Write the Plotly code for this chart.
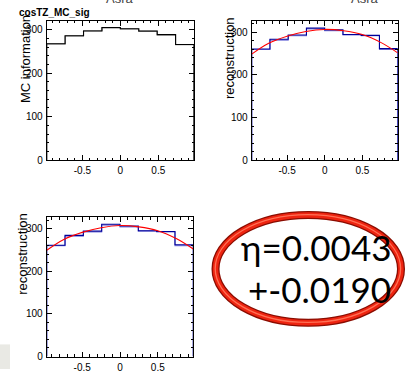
import plotly.graph_objects as go

W, H = 405, 375

# ---- data ----
bin_edges = [-0.97, -0.7275, -0.485, -0.2425, 0.0, 0.2425, 0.485, 0.7275, 0.97]
mc_black = [267.5, 286, 297, 305, 302, 297, 288.5, 266]
mc_gray = [267, 285.5, 297.5, 304, 301.5, 296, 288, 265.5]
reco_dark = [261, 284, 294, 310, 306, 295, 293, 262]
reco_light = [260, 282, 292, 308, 304, 294, 292, 260]
fit_x = [-0.97, -0.75, -0.5, -0.25, 0.0, 0.25, 0.5, 0.75, 0.97]
fit_y = [249, 274, 291, 302, 307, 304, 295, 276, 252]
x_tickvals = [-0.5, 0, 0.5]
x_ticktext = ["-0.5", "0", "0.5"]
y_tickvals = [0, 100, 200, 300]
y_ticktext = ["0", "100", "200", "300"]
eta_text = "η=0.0043"
err_text = "+-0.0190"


def hist_xy(edges, vals):
    xs = [edges[0]] + edges[:-1] + [edges[-1], edges[-1]]
    ys = [0] + vals + [vals[-1], 0]
    return xs, ys


def px_x(p):
    return p / W


def px_y(p):
    return 1 - p / H


fig = go.Figure()

# panel boxes in pixels: (left, right, top, bottom), y max
panels = [
    ("x", "y", (46.7, 194.0, 21.3, 162.7), 320),
    ("x2", "y2", (251.7, 397.7, 21.7, 162.7), 326),
    ("x3", "y3", (46.7, 193.3, 221.0, 362.3), 326),
]

axis_font = dict(family="Liberation Sans, Arial, sans-serif", size=10, color="black")
for i, (xa, ya, (l, r, t, b), ymax) in enumerate(panels):
    sfx = "" if i == 0 else str(i + 1)
    fig.layout["xaxis" + sfx] = dict(
        domain=[px_x(l), px_x(r)], range=[bin_edges[0], bin_edges[-1]],
        anchor=ya, showgrid=False, zeroline=False, showline=True,
        linecolor="black", linewidth=1, mirror="allticks",
        ticks="inside", ticklen=5, tickcolor="black", tickwidth=1,
        tickvals=x_tickvals, ticktext=x_ticktext, tickfont=axis_font,
        ticklabelstandoff=1,
        minor=dict(ticks="inside", ticklen=2.5, dtick=0.1, tick0=0,
                   tickcolor="black", showgrid=False),
    )
    fig.layout["yaxis" + sfx] = dict(
        domain=[px_y(b), px_y(t)], range=[0, ymax],
        anchor=xa, showgrid=False, zeroline=False, showline=True,
        linecolor="black", linewidth=1, mirror="allticks",
        ticks="inside", ticklen=5, tickcolor="black", tickwidth=1,
        tickvals=y_tickvals, ticktext=y_ticktext, tickfont=axis_font,
        ticklabelstandoff=1,
        minor=dict(ticks="inside", ticklen=2.5, dtick=20, tick0=0,
                   tickcolor="black", showgrid=False),
    )

# panel 1: MC information
for vals, col in [(mc_gray, "#808080"), (mc_black, "black")]:
    hx, hy = hist_xy(bin_edges, vals)
    fig.add_trace(go.Scatter(x=hx, y=hy, mode="lines", line=dict(color=col, width=1.1, shape="hv"),
                             xaxis="x", yaxis="y", showlegend=False, hoverinfo="skip"))

# panels 2 and 3: reconstruction + fit
for xa, ya in [("x2", "y2"), ("x3", "y3")]:
    for vals, col in [(reco_light, "#8080dd"), (reco_dark, "#000099")]:
        hx, hy = hist_xy(bin_edges, vals)
        fig.add_trace(go.Scatter(x=hx, y=hy, mode="lines", line=dict(color=col, width=1.1, shape="hv"),
                                 xaxis=xa, yaxis=ya, showlegend=False, hoverinfo="skip"))
    fig.add_trace(go.Scatter(x=fit_x, y=fit_y, mode="lines", line=dict(color="red", width=1.1, shape="spline"),
                             xaxis=xa, yaxis=ya, showlegend=False, hoverinfo="skip"))

annotations = []
title_font = dict(family="Liberation Sans, Arial, sans-serif", size=13, color="black")
for txt, cx, cy in [("MC information", 25, 60), ("reconstruction", 229, 59), ("reconstruction", 23, 258)]:
    annotations.append(dict(text=txt, x=px_x(cx), y=px_y(cy), xref="paper", yref="paper",
                            xanchor="center", yanchor="middle", textangle=-90,
                            showarrow=False, font=title_font))

annotations.append(dict(text="<b>cosTZ_MC_sig</b>", x=px_x(17), y=px_y(13), xref="paper", yref="paper",
                        xanchor="left", yanchor="middle", showarrow=False,
                        font=dict(family="Liberation Sans, Arial, sans-serif", size=10, color="black")))
for cx in [120, 365]:
    annotations.append(dict(text="Asra", x=px_x(cx), y=px_y(8), xref="paper", yref="paper",
                            xanchor="center", yanchor="bottom", showarrow=False,
                            font=dict(family="Liberation Sans, Arial, sans-serif", size=13, color="#444")))

big_font = dict(family="Lato, Noto Sans, sans-serif", size=35, color="black", weight=400)
annotations.append(dict(text=eta_text, x=px_x(393), y=px_y(251), xref="paper", yref="paper",
                        xanchor="right", yanchor="middle", showarrow=False, font=big_font))
annotations.append(dict(text=err_text, x=px_x(393), y=px_y(294), xref="paper", yref="paper",
                        xanchor="right", yanchor="middle", showarrow=False, font=big_font))

shapes = [
    dict(type="rect", xref="paper", yref="paper", x0=0, x1=px_x(10), y0=0, y1=px_y(350),
         fillcolor="#e9e9e4", line=dict(width=0), layer="below"),
    dict(type="circle", xref="paper", yref="paper", x0=px_x(215.5), x1=px_x(401), y0=px_y(328), y1=px_y(218.5),
         line=dict(color="#8a0c00", width=8)),
    dict(type="circle", xref="paper", yref="paper", x0=px_x(215.5), x1=px_x(401), y0=px_y(328), y1=px_y(218.5),
         line=dict(color="#ee2410", width=5.5)),
    dict(type="circle", xref="paper", yref="paper", x0=px_x(215.2), x1=px_x(400.6), y0=px_y(327.7), y1=px_y(218.2),
         line=dict(color="#ff7055", width=1.3)),
]

fig.update_layout(
    width=W, height=H, margin=dict(l=0, r=0, t=0, b=0),
    paper_bgcolor="white", plot_bgcolor="white",
    annotations=annotations, shapes=shapes,
)

fig.write_html("out.html", config={"displayModeBar": False},
               post_script="document.body.style.margin='0';")
